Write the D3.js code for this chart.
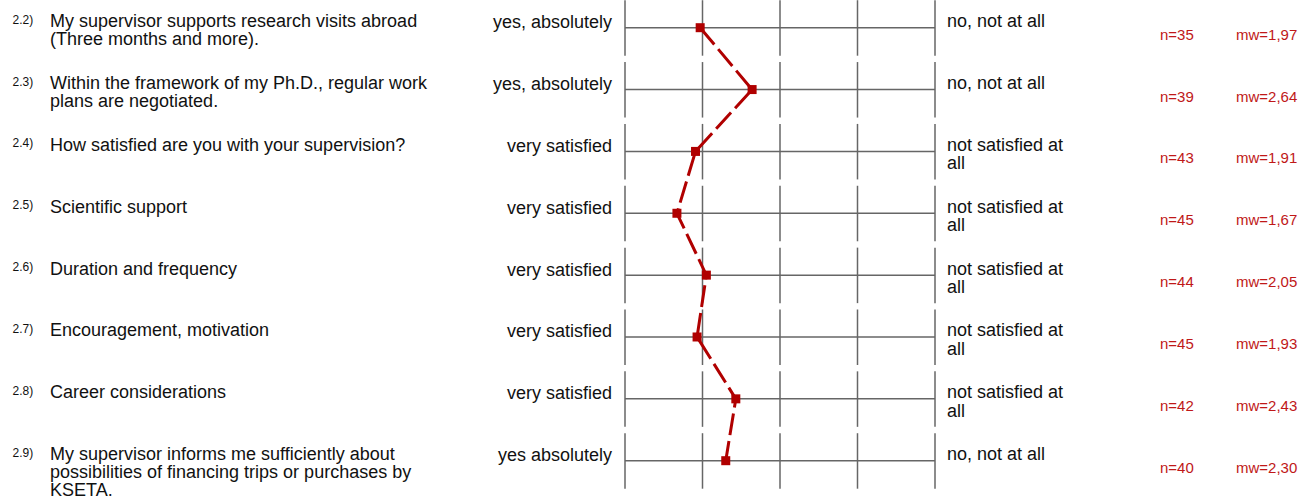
<!DOCTYPE html>
<html lang="en">
<head>
  <meta charset="UTF-8">
  <title>Supervision profile</title>
  <script src="https://d3js.org/d3.v7.min.js"></script>
  <style>
    body { margin: 0; background: #fff; }
    text { font-family: "Liberation Sans", Arial, sans-serif; }
  </style>
</head>
<body>
  <script>
    // data
    const itemIds = ["2.2)", "2.3)", "2.4)", "2.5)", "2.6)", "2.7)", "2.8)", "2.9)"];
    const questions = [
      ["My supervisor supports research visits abroad", "(Three months and more)."],
      ["Within the framework of my Ph.D., regular work", "plans are negotiated."],
      ["How satisfied are you with your supervision?"],
      ["Scientific support"],
      ["Duration and frequency"],
      ["Encouragement, motivation"],
      ["Career considerations"],
      ["My supervisor informs me sufficiently about", "possibilities of financing trips or purchases by", "KSETA."]
    ];
    const leftAnchors = ["yes, absolutely", "yes, absolutely", "very satisfied", "very satisfied",
                         "very satisfied", "very satisfied", "very satisfied", "yes absolutely"];
    const rightAnchors = [
      ["no, not at all"], ["no, not at all"],
      ["not satisfied at", "all"], ["not satisfied at", "all"], ["not satisfied at", "all"],
      ["not satisfied at", "all"], ["not satisfied at", "all"],
      ["no, not at all"]
    ];
    const counts = [35, 39, 43, 45, 44, 45, 42, 40];
    const means = [1.97, 2.64, 1.91, 1.67, 2.05, 1.93, 2.43, 2.30];
    const scaleTicks = [1, 2, 3, 4, 5];

    const width = 1303, height = 498;
    const gray = "#666", red = "#b00000", textRed = "#c01818";

    const svg = d3.select("body").append("svg")
      .attr("width", width)
      .attr("height", height);

    const x = d3.scaleLinear().domain([1, 5]).range([625, 935]);
    const y = d3.scaleLinear().domain([0, itemIds.length - 1]).range([27.7, 460.7]);

    const rows = svg.selectAll("g.row")
      .data(itemIds)
      .enter().append("g")
      .attr("class", "row")
      .attr("transform", (d, i) => `translate(0,${y(i)})`);

    // per-row grid
    rows.append("line")
      .attr("x1", x(1)).attr("x2", x(5))
      .attr("y1", 0).attr("y2", 0)
      .attr("stroke", gray).attr("stroke-width", 1.5);

    rows.selectAll("line.tick")
      .data(scaleTicks)
      .enter().append("line")
      .attr("class", "tick")
      .attr("x1", d => x(d)).attr("x2", d => x(d))
      .attr("y1", -27.5).attr("y2", 28)
      .attr("stroke", gray).attr("stroke-width", 1.5);

    // item numbers
    rows.append("text")
      .attr("x", 12.5).attr("y", -4)
      .attr("font-size", 12)
      .attr("fill", "#111")
      .text(d => d);

    // questions
    rows.append("text")
      .attr("x", 50).attr("y", -0.5)
      .attr("font-size", 18)
      .attr("fill", "#111")
      .selectAll("tspan")
      .data((d, i) => questions[i])
      .enter().append("tspan")
      .attr("x", 50)
      .attr("dy", (d, j) => j === 0 ? 0 : 18)
      .text(d => d);

    // anchors
    rows.append("text")
      .attr("x", 612).attr("y", 0.5)
      .attr("text-anchor", "end")
      .attr("font-size", 18)
      .attr("fill", "#111")
      .text((d, i) => leftAnchors[i]);

    rows.append("text")
      .attr("x", 947).attr("y", -0.5)
      .attr("font-size", 18)
      .attr("fill", "#111")
      .selectAll("tspan")
      .data((d, i) => rightAnchors[i])
      .enter().append("tspan")
      .attr("x", 947)
      .attr("dy", (d, j) => j === 0 ? 0 : 18.3)
      .text(d => d);

    // n and mean
    rows.append("text")
      .attr("x", 1160).attr("y", 12)
      .attr("font-size", 15)
      .attr("fill", textRed)
      .text((d, i) => "n=" + counts[i]);

    rows.append("text")
      .attr("x", 1236).attr("y", 12)
      .attr("font-size", 15)
      .attr("fill", textRed)
      .text((d, i) => "mw=" + d3.format(".2f")(means[i]).replace(".", ","));

    // profile line
    const line = d3.line()
      .x(d => x(d))
      .y((d, i) => y(i));

    svg.append("path")
      .datum(means)
      .attr("d", line)
      .attr("fill", "none")
      .attr("stroke", red)
      .attr("stroke-width", 3)
      .attr("stroke-dasharray", "22,6");

    svg.selectAll("rect.marker")
      .data(means)
      .enter().append("rect")
      .attr("class", "marker")
      .attr("x", d => x(d) - 4.5)
      .attr("y", (d, i) => y(i) - 4.5)
      .attr("width", 9).attr("height", 9)
      .attr("fill", red);
  </script>
</body>
</html>
